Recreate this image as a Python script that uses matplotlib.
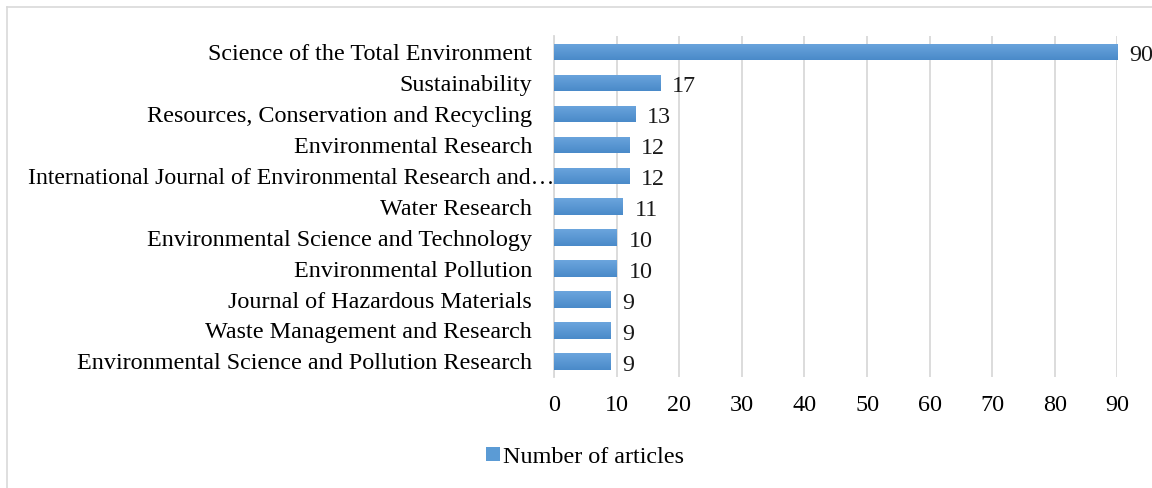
import numpy as np
import matplotlib
matplotlib.use("Agg")
import matplotlib.pyplot as plt
import matplotlib.transforms as mtransforms
from matplotlib.colors import LinearSegmentedColormap
from matplotlib.patches import Rectangle
from matplotlib.lines import Line2D

plt.rcParams['font.family'] = ['Liberation Serif', 'DejaVu Serif']

journals = [
    "Science of the Total Environment",
    "Sustainability",
    "Resources, Conservation and Recycling",
    "Environmental Research",
    "International Journal of Environmental Research and\u2026",
    "Water Research",
    "Environmental Science and Technology",
    "Environmental Pollution",
    "Journal of Hazardous Materials",
    "Waste Management and Research",
    "Environmental Science and Pollution Research",
]
articles = [90, 17, 13, 12, 12, 11, 10, 10, 9, 9, 9]
xticks = list(range(0, 100, 10))

FS = 17.4

fig = plt.figure(figsize=(11.52, 4.88), dpi=100)
ax = fig.add_axes([0.481, 0.2275, 0.489, 0.6985])

ypos = np.arange(len(journals))
bars = ax.barh(ypos, articles, height=0.52, color="#5B9BD5", zorder=2)

# excel-ish vertical gradient on each bar
cmap = LinearSegmentedColormap.from_list("g", ["#4A8AC9", "#6BA5DD"])
grad = np.linspace(0, 1, 64).reshape(-1, 1)
for b in bars:
    x0, y0 = b.get_x(), b.get_y()
    w, h = b.get_width(), b.get_height()
    im = ax.imshow(grad, cmap=cmap, aspect="auto", origin="lower",
                   extent=[x0, x0 + w, y0 + h, y0], zorder=3)
    im.set_clip_path(b)

for y, v in zip(ypos, articles):
    ax.annotate(str(v), (v, y), xytext=(8.5, -1), textcoords="offset points",
                ha="left", va="center_baseline", fontsize=FS, color="#1a1a1a")

ax.set_yticks(ypos)
ax.set_yticklabels(journals, fontsize=FS)
ax.set_ylim(len(journals) - 0.5, -0.5)
ax.set_xlim(0, 90)
ax.set_xticks(xticks)
ax.tick_params(axis="x", length=0, pad=13, labelsize=FS)
ax.tick_params(axis="y", length=0, pad=16)
ax.xaxis.grid(True, color="#D9D9D9", linewidth=1.3, zorder=0)
ax.set_axisbelow(True)
for s in ["top", "right", "bottom"]:
    ax.spines[s].set_visible(False)
ax.spines["left"].set_color("#D9D9D9")
ax.spines["left"].set_linewidth(1.3)

# the long truncated label runs up to the axis in the original
fig.canvas.draw()
long_lbl = ax.get_yticklabels()[4]
long_lbl.set_fontsize(17.1)
long_lbl.set_transform(long_lbl.get_transform() +
                       mtransforms.ScaledTranslation(0.22, 0, fig.dpi_scale_trans))

leg_handle = Rectangle((0, 0), 1, 1, facecolor="#5B9BD5")
fig.legend([leg_handle], ["Number of articles"], loc="center",
           bbox_to_anchor=(0.508, 0.063), frameon=False, fontsize=FS,
           handlelength=0.55, handleheight=0.55, handletextpad=0.15)

# chart border (only top and left visible, rest cropped)
fig.add_artist(Line2D([0.006, 1.0], [0.986, 0.986], transform=fig.transFigure,
                      color="#D9D9D9", linewidth=1.2))
fig.add_artist(Line2D([0.006, 0.006], [0.0, 0.986], transform=fig.transFigure,
                      color="#D9D9D9", linewidth=1.2))

fig.savefig("out.png", dpi=100)
